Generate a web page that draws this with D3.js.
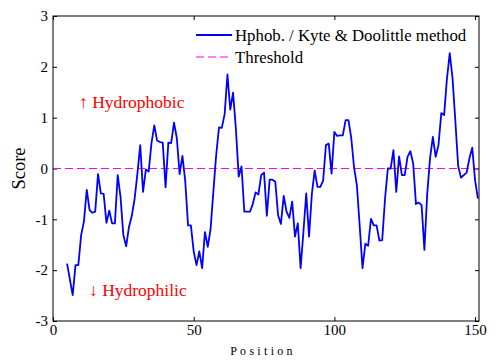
<!DOCTYPE html>
<html>
<head>
<meta charset="utf-8">
<script src="https://cdn.jsdelivr.net/npm/d3@7"></script>
<style>
  body { margin: 0; background: #fff; }
  svg { display: block; }
  text { font-family: "Liberation Serif", "Times New Roman", Times, "DejaVu Serif", serif; }
</style>
</head>
<body>
<script>
// hydrophobicity scores, one per residue starting at position 5
const firstPos = 5;
const scores = [
  -1.87, -2.18, -2.49, -1.90, -1.90, -1.31, -1.04, -0.42, -0.82, -0.87,
  -0.85, -0.11, -0.49, -0.50, -1.07, -0.83, -1.08, -1.08, -0.13, -0.56,
  -1.31, -1.53, -1.15, -0.93, -0.60, -0.10, 0.46, -0.46, -0.02, -0.06,
  0.50, 0.85, 0.55, 0.52, 0.51, -0.37, 0.51, 0.50, 0.90, 0.60,
  -0.11, 0.25, -0.25, -1.12, -1.12, -1.63, -1.90, -1.63, -1.96, -1.25,
  -1.54, -1.19, -0.45, 0.27, 0.81, 0.80, 1.07, 1.85, 1.16, 1.49,
  0.78, -0.16, 0.04, -0.85, -0.85, -0.85, -0.70, -0.47, -0.51, -0.13,
  -0.08, -0.93, -0.22, -0.22, -0.26, -0.92, -1.09, -0.54, -0.85, -0.97,
  -0.65, -1.34, -1.08, -1.96, -1.25, -0.49, -1.34, -0.50, -0.04, -0.36,
  -0.36, -0.24, 0.46, 0.49, -0.10, 0.72, 0.64, 0.65, 0.65, 0.95,
  0.95, 0.60, 0.02, -0.33, -1.13, -1.96, -1.48, -1.52, -0.99, -1.12,
  -1.12, -1.42, -1.41, -0.60, 0.00, 0.00, 0.36, -0.46, 0.24, -0.13,
  -0.13, 0.23, 0.34, 0.10, -0.70, -0.67, -0.72, -1.60, -0.50, 0.20,
  0.62, 0.23, 0.46, 1.09, 1.05, 1.76, 2.27, 1.77, 0.93, 0.05,
  -0.18, -0.13, -0.08, 0.20, 0.41, -0.23, -0.59
];
const threshold = 0;
const xTicks = [0, 50, 100, 150];
const yTicks = [-3, -2, -1, 0, 1, 2, 3];
const legendLabels = ["Hphob. / Kyte & Doolittle method", "Threshold"];

const FONT = "'Liberation Serif', 'Times New Roman', Times, 'DejaVu Serif', serif";
const width = 500, height = 364;
const m = {left: 53, right: 479, top: 16, bottom: 321};
const xMax = 151.4;

const x = d3.scaleLinear().domain([0, xMax]).range([m.left, m.right]);
const y = d3.scaleLinear().domain([-3, 3]).range([m.bottom, m.top]);

const svg = d3.select("body").append("svg")
  .attr("width", width)
  .attr("height", height)
  .attr("font-family", FONT);

svg.append("rect")
  .attr("width", width).attr("height", height).attr("fill", "#fff");

// axes, ticks pointing inward on all four sides
const tickLen = 4;
const gx = svg.append("g").attr("transform", `translate(0,${m.bottom})`)
  .call(d3.axisBottom(x).tickValues(xTicks).tickSize(-tickLen).tickSizeOuter(0)
    .tickPadding(3).tickFormat(d3.format("d")));
const gxTop = svg.append("g").attr("transform", `translate(0,${m.top})`)
  .call(d3.axisTop(x).tickValues(xTicks).tickSize(-tickLen).tickSizeOuter(0).tickFormat(""));
const gy = svg.append("g").attr("transform", `translate(${m.left},0)`)
  .call(d3.axisLeft(y).tickValues(yTicks).tickSize(-tickLen).tickSizeOuter(0)
    .tickPadding(5).tickFormat(d => d < 0 ? "-" + Math.abs(d) : String(d)));
const gyRight = svg.append("g").attr("transform", `translate(${m.right},0)`)
  .call(d3.axisRight(y).tickValues(yTicks).tickSize(-tickLen).tickSizeOuter(0).tickFormat(""));

[gx, gxTop, gy, gyRight].forEach(g => {
  g.attr("font-family", FONT).attr("font-size", 15);
  g.select(".domain").remove();
  g.selectAll("line").attr("stroke", "#000");
  g.selectAll("text").attr("fill", "#000");
});
gx.selectAll("text").attr("dy", "0.75em");

// threshold line
svg.append("line")
  .attr("x1", x(0)).attr("x2", x(xMax))
  .attr("y1", y(threshold)).attr("y2", y(threshold))
  .attr("stroke", "#ff00ff")
  .attr("stroke-width", 1)
  .attr("stroke-dasharray", "8,4");

// score line
const line = d3.line()
  .x((d, i) => x(firstPos + i))
  .y(d => y(d));

svg.append("path")
  .datum(scores)
  .attr("fill", "none")
  .attr("stroke", "#0000ff")
  .attr("stroke-width", 1.8)
  .attr("stroke-linejoin", "round")
  .attr("d", line);

// box
svg.append("rect")
  .attr("x", m.left).attr("y", m.top)
  .attr("width", m.right - m.left).attr("height", m.bottom - m.top)
  .attr("fill", "none")
  .attr("stroke", "#000")
  .attr("stroke-width", 1);

// legend
const legend = svg.append("g");
const legendRows = [
  {label: legendLabels[0], color: "#0000ff", dash: null, width: 1.8, y: 35},
  {label: legendLabels[1], color: "#ff00ff", dash: "8,4", width: 1, y: 57}
];
legendRows.forEach(r => {
  legend.append("line")
    .attr("x1", 196).attr("x2", 232)
    .attr("y1", r.y).attr("y2", r.y)
    .attr("stroke", r.color)
    .attr("stroke-width", r.width)
    .attr("stroke-dasharray", r.dash);
  legend.append("text")
    .attr("x", 235).attr("y", r.y + 5.5)
    .attr("font-size", 16.8)
    .attr("fill", "#000")
    .text(r.label);
});

// annotations
svg.append("text")
  .attr("x", 79).attr("y", 108)
  .attr("font-size", 17.5)
  .attr("fill", "#ff0000")
  .text("↑ Hydrophobic");
svg.append("text")
  .attr("x", 89).attr("y", 296)
  .attr("font-size", 17.5)
  .attr("fill", "#ff0000")
  .text("↓ Hydrophilic");

// axis titles
svg.append("text")
  .attr("transform", `translate(25,${(m.top + m.bottom) / 2}) rotate(-90)`)
  .attr("text-anchor", "middle")
  .attr("font-size", 18.5)
  .attr("fill", "#000")
  .text("Score");
svg.append("text")
  .attr("x", (m.left + m.right) / 2 - 3).attr("y", 355)
  .attr("text-anchor", "middle")
  .attr("font-size", 12)
  .attr("letter-spacing", 3.3)
  .attr("fill", "#000")
  .text("Position");
</script>
</body>
</html>
